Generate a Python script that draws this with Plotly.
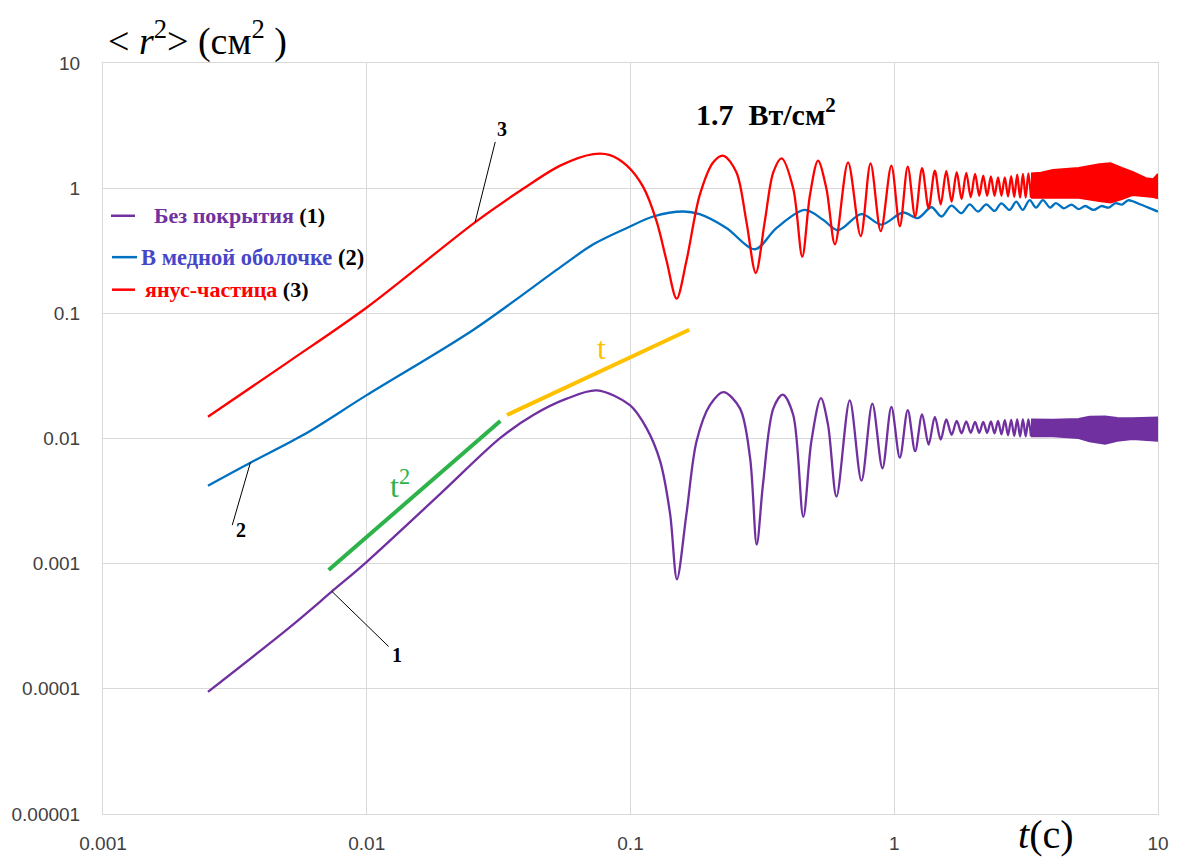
import numpy as np
import plotly.graph_objects as go

# ---------------- data ----------------
# (1) uncoated particle: smooth rise, first big oscillations
t_bare = [0.0025, 0.0051, 0.00738, 0.01, 0.019, 0.0321, 0.0428, 0.0573, 0.0746,
          0.0995, 0.115, 0.1295, 0.1413, 0.150, 0.163, 0.178, 0.200, 0.225, 0.260,
          0.284, 0.301, 0.318, 0.348, 0.378, 0.414, 0.452, 0.485, 0.527, 0.561,
          0.604, 0.678, 0.751, 0.826, 0.902, 0.975]
r_bare = [9.46e-5, 3.1e-4, 6.0e-4, 1.035e-3, 3.61e-3, 0.0101, 0.0154, 0.0208, 0.0242,
          0.01845, 0.0121, 0.0066, 0.0025, 7.5e-4, 0.0025, 0.0095, 0.01845, 0.0235, 0.0174,
          0.00703, 0.00142, 0.00433, 0.0174, 0.0224, 0.0154, 0.00237, 0.0095, 0.021, 0.01285,
          0.00344, 0.0202, 0.0046, 0.019, 0.00578, 0.0179]

# times of successive extrema (shared by curves 1 and 3) after t = 1 s
t_ext = [1.05, 1.125, 1.2, 1.275, 1.35, 1.425, 1.5, 1.575, 1.65, 1.725, 1.8, 1.875, 1.95,
         2.025, 2.1, 2.175, 2.25, 2.325, 2.4, 2.475, 2.55, 2.625, 2.7, 2.775, 2.85, 2.925,
         3.0, 3.075, 3.15, 3.225, 3.3]
r_bare_ext = [0.00703, 0.01686, 0.00792, 0.0156, 0.00893, 0.0149, 0.0098, 0.0142, 0.0107, 0.0138,
              0.0110, 0.0137, 0.0111, 0.0136, 0.0111, 0.0136, 0.0111, 0.0137, 0.0110, 0.0138,
              0.0108, 0.0140, 0.0106, 0.0141, 0.0105, 0.0142, 0.0104, 0.0142, 0.0104, 0.0142,
              0.0104]
# fast oscillation band of curve 1 (upper / lower envelope)
t_bare_band = [3.3, 4.0, 5.0, 5.5, 6.3, 7.0, 8.0, 9.0, 10.0]
r_bare_hi = [0.0142, 0.0141, 0.0143, 0.0149, 0.0150, 0.0146, 0.0145, 0.0146, 0.0147]
r_bare_lo = [0.0104, 0.0104, 0.0101, 0.0095, 0.0091, 0.0096, 0.0099, 0.0098, 0.0096]

# (2) particle in copper shell
t_cu = [0.0025, 0.00362, 0.00576, 0.00996, 0.0254, 0.0541, 0.0723, 0.0969, 0.122, 0.1585,
        0.183, 0.231, 0.2965, 0.358, 0.458, 0.537, 0.612, 0.751, 0.894, 1.08,
        1.23, 1.383, 1.51, 1.648, 1.797, 1.932, 2.076, 2.234, 2.40, 2.547,
        2.738, 2.90, 3.07, 3.26, 3.45, 3.66, 3.9, 4.1, 4.4, 4.7,
        5.0, 5.3, 5.7, 6.1, 6.5, 6.9, 7.3, 7.7, 8.1, 8.6,
        9.2, 10.0]
r_cu = [0.0042, 0.00641, 0.0107, 0.0221, 0.074, 0.233, 0.356, 0.481, 0.594, 0.651,
        0.62, 0.481, 0.325, 0.481, 0.67, 0.559, 0.461, 0.62, 0.511, 0.639,
        0.577, 0.704, 0.594, 0.726, 0.631, 0.743, 0.651, 0.743, 0.658, 0.756,
        0.67, 0.78, 0.67, 0.803, 0.70, 0.803, 0.70, 0.76, 0.69, 0.74,
        0.68, 0.72, 0.67, 0.72, 0.70, 0.76, 0.74, 0.80, 0.78, 0.74,
        0.70, 0.65]

# (3) Janus particle
t_janus = [0.0025, 0.005, 0.01, 0.0258, 0.0393, 0.0541, 0.0723, 0.0836, 0.0969, 0.1117,
           0.1256, 0.137, 0.1496, 0.163, 0.183, 0.206, 0.225, 0.252, 0.275, 0.2985,
           0.323, 0.348, 0.374, 0.414, 0.448, 0.479, 0.514, 0.553, 0.596, 0.668,
           0.746, 0.813, 0.889, 0.975]
r_janus = [0.0149, 0.0404, 0.1114, 0.536, 0.993, 1.514, 1.872, 1.838, 1.514, 1.024,
           0.543, 0.263, 0.131, 0.263, 0.879, 1.61, 1.815, 1.343, 0.543, 0.21,
           0.543, 1.343, 1.73, 0.993, 0.284, 0.879, 1.66, 0.993, 0.356, 1.61,
           0.414, 1.58, 0.453, 1.514]
r_janus_ext = [0.496, 1.486, 0.594, 1.445, 0.691, 1.383, 0.743, 1.368, 0.78, 1.343,
               0.818, 1.327, 0.848, 1.303, 0.87, 1.26, 0.87, 1.24, 0.87, 1.22,
               0.87, 1.22, 0.86, 1.25, 0.85, 1.28, 0.84, 1.30, 0.84, 1.31,
               0.84]
t_janus_band = [3.3, 3.6, 4.0, 5.0, 6.0, 6.6, 7.3, 8.0, 9.0, 9.6, 10.0]
r_janus_hi = [1.31, 1.33, 1.40, 1.45, 1.55, 1.58, 1.45, 1.35, 1.20, 1.18, 1.30]
r_janus_lo = [0.84, 0.84, 0.85, 0.84, 0.79, 0.77, 0.82, 0.88, 0.86, 0.85, 0.83]

# guide lines: t^2 and t
t_sq = [0.00717, 0.0321]
r_sq = [8.9e-4, 0.0138]
t_lin = [0.034, 0.167]
r_lin = [0.0154, 0.074]

x_ticks = [0.001, 0.01, 0.1, 1, 10]
x_labels = ["0.001", "0.01", "0.1", "1", "10"]
y_ticks = [1e-5, 1e-4, 1e-3, 1e-2, 1e-1, 1, 10]
y_labels = ["0.00001", "0.0001", "0.001", "0.01", "0.1", "1", "10"]

PURPLE = "#7030a0"
BLUE = "#0070c0"
RED = "#ff0000"
GREEN = "#2db34a"
GOLD = "#ffc000"
GRID = "#d9d9d9"
SERIF = "Liberation Serif"

fig = go.Figure()


def curve(t, r, color, width=2.3):
    fig.add_trace(go.Scatter(x=t, y=r, mode="lines",
                             line=dict(color=color, width=width, shape="spline", smoothing=0.9),
                             hoverinfo="skip", showlegend=False))


def band(t, lo, hi, color):
    fig.add_trace(go.Scatter(x=t, y=lo, mode="lines", line=dict(color=color, width=2),
                             hoverinfo="skip", showlegend=False))
    fig.add_trace(go.Scatter(x=t, y=hi, mode="lines", line=dict(color=color, width=2),
                             fill="tonexty", fillcolor=color,
                             hoverinfo="skip", showlegend=False))


# curve 1
curve(t_bare + t_ext, r_bare + r_bare_ext, PURPLE)
band(t_bare_band, r_bare_lo, r_bare_hi, PURPLE)
# curve 2
curve(t_cu, r_cu, BLUE)
# curve 3
curve(t_janus + t_ext, r_janus + r_janus_ext, RED)
band(t_janus_band, r_janus_lo, r_janus_hi, RED)

# power-law guides
fig.add_trace(go.Scatter(x=t_sq, y=r_sq, mode="lines", line=dict(color=GREEN, width=4),
                         hoverinfo="skip", showlegend=False))
fig.add_trace(go.Scatter(x=t_lin, y=r_lin, mode="lines", line=dict(color=GOLD, width=4),
                         hoverinfo="skip", showlegend=False))

# curve number callouts: leader line from the curve to the number
callouts = [
    ("3", (0.02576, 0.536), (0.0307, 2.34), (0.0326, 2.95)),
    ("2", (0.00362, 0.00641), (0.00309, 0.00203), (0.00335, 0.00185)),
    ("1", (0.00738, 6.0e-4), (0.0121, 2.18e-4), (0.0130, 1.86e-4)),
]
for num, p0, p1, ptxt in callouts:
    fig.add_trace(go.Scatter(x=[p0[0], p1[0]], y=[p0[1], p1[1]], mode="lines",
                             line=dict(color="black", width=1),
                             hoverinfo="skip", showlegend=False))
    fig.add_annotation(x=np.log10(ptxt[0]), y=np.log10(ptxt[1]), xref="x", yref="y",
                       text=f"<b>{num}</b>", showarrow=False,
                       font=dict(family=SERIF, size=20, color="black"))

# guide labels
fig.add_annotation(x=np.log10(0.0134), y=np.log10(0.0043), xref="x", yref="y",
                   text="t<sup>2</sup>", showarrow=False,
                   font=dict(family=SERIF, size=32, color=GREEN))
fig.add_annotation(x=np.log10(0.0773), y=np.log10(0.0527), xref="x", yref="y",
                   text="t", showarrow=False,
                   font=dict(family=SERIF, size=32, color=GOLD))

# plot-area geometry in pixels (for paper-anchored decorations)
W, H = 1181, 866
L, R, T, B = 103, 23, 63, 41
pw, ph = W - L - R, H - T - B


def px(x):
    return (x - L) / pw


def py(y):
    return 1 - (y - T) / ph


# hand-made legend
legend_rows = [
    (218, 111, 135, 152, PURPLE, PURPLE, "Без покрытия", "(1)", 22),
    (260, 112, 137, 139, BLUE, "#4646c8", "В медной оболочке", "(2)", 22.5),
    (293, 112, 135, 143, RED, RED, "янус-частица", "(3)", 22),
]
for yy, x0, x1, xt, lc, tc, label, num, fs in legend_rows:
    fig.add_shape(type="line", xref="paper", yref="paper",
                  x0=px(x0), x1=px(x1), y0=py(yy), y1=py(yy),
                  line=dict(color=lc, width=2.5))
    fig.add_annotation(xref="paper", yref="paper", x=px(xt), y=py(yy),
                       xanchor="left", yanchor="middle", showarrow=False,
                       text=f"<b><span style='color:{tc}'>{label}</span> {num}</b>",
                       font=dict(family=SERIF, size=fs, color="black"))

# intensity label
fig.add_annotation(xref="paper", yref="paper", x=px(766), y=py(113),
                   xanchor="center", yanchor="middle", showarrow=False,
                   text="<b>1.7&nbsp;&nbsp;Вт/см<sup>2</sup></b>",
                   font=dict(family=SERIF, size=30, color="black"))

# axis titles
fig.add_annotation(xref="paper", yref="paper", x=px(106), y=py(38),
                   xanchor="left", yanchor="middle", showarrow=False,
                   text="&lt; <i>r</i><sup>2</sup>&gt;&nbsp;(см<sup>2</sup>&nbsp;)",
                   font=dict(family=SERIF, size=38, color="black"))
fig.add_annotation(xref="paper", yref="paper", x=px(1046), y=py(846),
                   xanchor="center", yanchor="middle", showarrow=False,
                   text="<i>t</i>(c)",
                   font=dict(family=SERIF, size=40, color="black"))

axis_common = dict(type="log", showgrid=True, gridcolor=GRID, gridwidth=1,
                   showline=True, linecolor=GRID, linewidth=1, mirror=True,
                   zeroline=False, ticks="",
                   tickfont=dict(family="Liberation Sans", size=19, color="#404040"))

fig.update_layout(
    width=W, height=H,
    margin=dict(l=L, r=R, t=T, b=B),
    paper_bgcolor="white", plot_bgcolor="white",
    showlegend=False, hovermode=False,
    xaxis=dict(range=[-3, 1], tickvals=x_ticks, ticktext=x_labels,
               ticklabelstandoff=12, **axis_common),
    yaxis=dict(range=[-5, 1], tickvals=y_ticks, ticktext=y_labels,
               ticklabelstandoff=18, **axis_common),
)

fig.write_html("out.html")
